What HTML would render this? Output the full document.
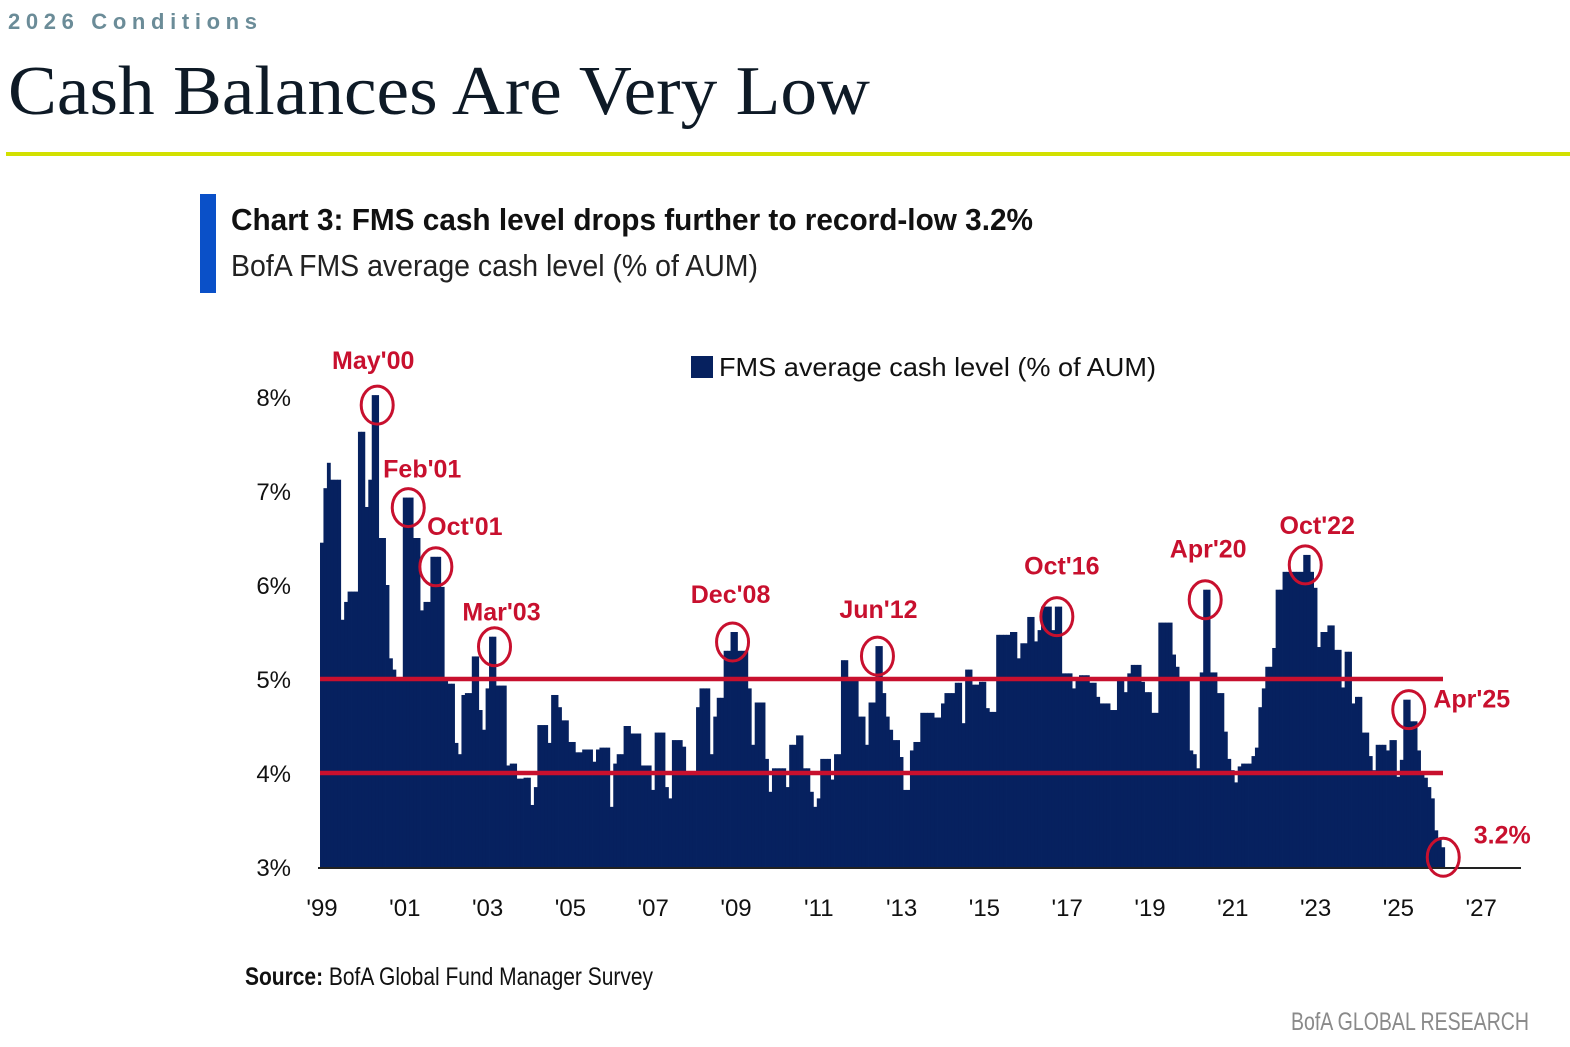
<!DOCTYPE html>
<html><head><meta charset="utf-8"><style>
html,body{margin:0;padding:0;background:#fff;width:1570px;height:1047px;overflow:hidden}
svg{display:block}
</style></head><body>
<svg id="chart" width="1570" height="1047" viewBox="0 0 1570 1047" xmlns="http://www.w3.org/2000/svg">
<text x="8" y="29" font-family="Liberation Sans, sans-serif" font-weight="bold" font-size="22" fill="#6b8c98" textLength="249" lengthAdjust="spacing">2026 Conditions</text>
<text x="8" y="114" font-family="Liberation Serif, serif" font-size="70" fill="#0e1a26" textLength="862" lengthAdjust="spacingAndGlyphs">Cash Balances Are Very Low</text>
<rect x="6" y="152" width="1564" height="4" fill="#d2e000"/>
<rect x="200" y="194" width="16" height="99" fill="#0a50c8"/>
<text x="231" y="230" font-family="Liberation Sans Narrow, Liberation Sans, sans-serif" font-weight="bold" font-size="31" fill="#111" textLength="802" lengthAdjust="spacingAndGlyphs">Chart 3: FMS cash level drops further to record-low 3.2%</text>
<text x="231" y="276" font-family="Liberation Sans Narrow, Liberation Sans, sans-serif" font-size="31" fill="#222" textLength="527" lengthAdjust="spacingAndGlyphs">BofA FMS average cash level (% of AUM)</text>
<rect x="691" y="356" width="22" height="22" fill="#06215f"/>
<text x="719" y="376" font-family="Liberation Sans, sans-serif" font-size="26" fill="#111" textLength="437" lengthAdjust="spacingAndGlyphs">FMS average cash level (% of AUM)</text>
<g id="bars"></g>
<g id="yaxis"></g>
<g id="xaxis"></g>
<g id="refs"></g>
<g id="annots"></g>
<text x="245" y="985" font-family="Liberation Sans Narrow, Liberation Sans, sans-serif" font-size="25" fill="#111" textLength="408" lengthAdjust="spacingAndGlyphs"><tspan font-weight="bold">Source:</tspan> BofA Global Fund Manager Survey</text>
<text x="1291" y="1030" font-family="Liberation Sans Narrow, Liberation Sans, sans-serif" font-size="25" fill="#8a8a8a" textLength="238" lengthAdjust="spacingAndGlyphs">BofA GLOBAL RESEARCH</text>
</svg>
<script>
const startYear = 1999;
const cashLevels = [
6.45,7.03,7.3,7.12,7.12,7.12,5.63,5.82,5.93,5.93,5.93,7.63,
7.63,6.83,7.12,8.02,8.02,6.5,6.5,6.0,5.22,5.1,5.0,5.0,
6.93,6.93,6.93,6.5,6.5,5.73,5.82,5.82,6.3,6.3,6.3,5.98,
5.0,4.95,4.95,4.32,4.2,4.83,4.85,4.85,5.24,5.24,4.67,4.46,
4.9,5.45,5.45,4.93,4.93,4.93,4.08,4.1,4.1,3.94,3.94,3.95,
3.95,3.66,3.85,4.51,4.51,4.51,4.32,4.83,4.83,4.7,4.56,4.56,
4.33,4.33,4.22,4.22,4.25,4.25,4.25,4.12,4.25,
4.27,4.27,4.27,3.64,4.1,4.2,4.2,4.5,4.5,4.42,4.42,4.42,
4.08,4.08,4.08,3.82,4.43,4.43,4.43,3.85,3.73,4.35,4.35,4.35,
4.28,4.0,4.0,4.0,4.7,4.9,4.9,4.9,4.2,4.6,4.8,4.8,
5.3,5.3,5.5,5.5,5.3,5.3,5.3,4.9,4.3,4.75,4.75,4.75,
4.15,3.8,4.05,4.05,4.05,4.05,3.85,4.3,4.3,4.4,4.4,4.05,
4.05,3.8,3.64,3.73,4.15,4.15,4.15,3.93,4.2,4.2,5.2,5.2,
5.0,5.0,5.0,4.6,4.6,4.3,4.75,4.75,5.35,5.35,4.85,4.6,
4.46,4.35,4.35,4.17,3.82,3.82,4.24,4.33,4.33,4.64,4.64,4.64,
4.64,4.59,4.59,4.74,4.85,4.85,4.85,4.96,4.96,4.53,5.1,5.1,
4.94,4.94,4.97,4.97,4.69,4.65,4.65,5.47,5.47,5.47,5.47,5.5,
5.5,5.22,5.38,5.38,5.66,5.66,5.4,5.52,5.77,5.77,5.77,5.52,
5.77,5.77,5.06,5.06,5.06,4.9,5.0,5.04,5.04,5.04,4.96,4.96,
4.81,4.74,4.74,4.74,4.67,4.67,5.02,5.02,4.86,5.06,5.15,5.15,
5.15,4.97,4.86,4.86,4.64,4.64,5.6,5.6,5.6,5.6,5.26,5.13,
5.02,5.02,5.02,4.24,4.2,4.05,5.07,5.95,5.95,5.07,5.07,4.85,
4.85,4.44,4.15,4.03,3.9,4.07,4.1,4.1,4.1,4.18,4.27,4.7,
4.9,5.13,5.13,5.33,5.95,5.95,6.14,6.14,6.14,6.14,6.14,6.14,
6.32,6.32,6.14,5.97,5.34,5.5,5.5,5.57,5.57,5.31,5.31,4.91,
5.29,5.29,4.74,4.81,4.81,4.43,4.43,4.18,4.03,4.3,4.3,4.3,
4.24,4.35,4.35,3.96,4.14,4.78,4.78,4.55,4.55,4.24,4.0,3.95,
3.85,3.73,3.39,3.29,3.21];
const yTicks = [3,4,5,6,7,8];
const xTickYears = [1999,2001,2003,2005,2007,2009,2011,2013,2015,2017,2019,2021,2023,2025,2027];
const refLevels = [5,4];
const annotLabels = ["May'00","Feb'01","Oct'01","Mar'03","Dec'08","Jun'12","Oct'16","Apr'20","Oct'22","Apr'25","3.2%"];
const annotMonths = [16,25,33,50,119,161,213,256,285,315,325];

const NS = "http://www.w3.org/2000/svg";
const X0 = 320, MW = 41.4/12, Y3 = 867, PX = 94;
function xm(m){ return X0 + m*MW; }
function xy(year){ return X0 + (year-startYear)*41.4; }
function yv(v){ return Y3 - (v-3)*PX; }
function mk(tag, attrs, parent){ const e=document.createElementNS(NS,tag); for(const k in attrs) e.setAttribute(k,attrs[k]); parent.appendChild(e); return e; }

const bars = document.getElementById('bars');
cashLevels.forEach((v,i)=>{
  const r = mk('rect',{x:xm(i).toFixed(2), y:yv(v).toFixed(2), width:(MW+0.4).toFixed(2), height:(Y3-yv(v)).toFixed(2), fill:'#06215f'}, bars);
  
  
});
const ax = document.getElementById('xaxis');
const base = mk('line',{x1:318,x2:1521,y1:868,y2:868,stroke:'#222','stroke-width':2},ax);


xTickYears.forEach(yr=>{
  const t = mk('text',{x:xy(yr)+2, y:916, 'text-anchor':'middle','font-family':'Liberation Sans, sans-serif','font-size':24, fill:'#111'},ax);
  t.textContent = "'" + String(yr).slice(2);
  
  
});
const ya = document.getElementById('yaxis');
yTicks.forEach(v=>{
  const t = mk('text',{x:291, y:yv(v)+9, 'text-anchor':'end','font-family':'Liberation Sans, sans-serif','font-size':24, fill:'#111'},ya);
  t.textContent = v + '%';
  
  
});
const refs = document.getElementById('refs');
refLevels.forEach(v=>{
  const l = mk('line',{x1:320,x2:1443,y1:yv(v),y2:yv(v),stroke:'#c8102e','stroke-width':4.5},refs);
  
  
});
const an = document.getElementById('annots');
const labelOff = [[-4,-36],[14,-30],[29,-32],[7,-26],[-2,-39],[1,-38],[5,-42],[3,-42],[12,-31],[63,-2],[59,-14]];
annotMonths.forEach((m,i)=>{
  const cx = xm(m)+2, cy = yv(cashLevels[m])+10;
  const c = mk('ellipse',{cx:cx, cy:cy, rx:16, ry:19, fill:'none', stroke:'#c8102e','stroke-width':3},an);
  
  
  const t = mk('text',{x:cx+labelOff[i][0], y:cy+labelOff[i][1], 'text-anchor':'middle','font-family':'Liberation Sans, sans-serif','font-weight':'bold','font-size':25, fill:'#c8102e'},an);
  t.textContent = annotLabels[i];
  
  
});
</script>
</body></html>
